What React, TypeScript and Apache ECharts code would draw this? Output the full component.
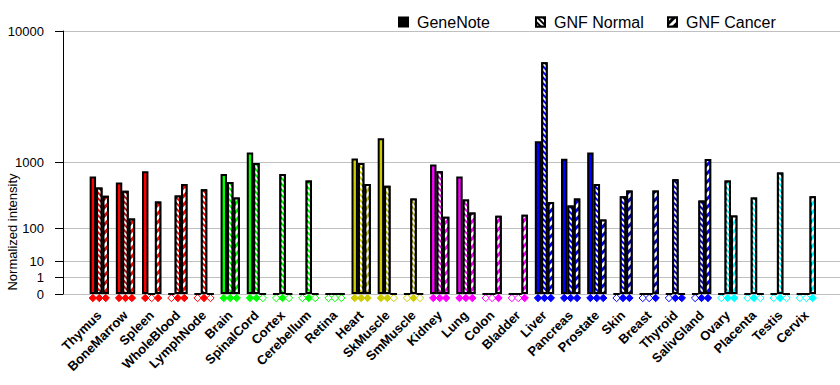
import React, { useEffect, useRef } from "react";
import * as echarts from "echarts";

const CATEGORIES = [
  "Thymus", "BoneMarrow", "Spleen", "WholeBlood", "LymphNode",
  "Brain", "SpinalCord", "Cortex", "Cerebellum", "Retina",
  "Heart", "SkMuscle", "SmMuscle",
  "Kidney", "Lung", "Colon", "Bladder",
  "Liver", "Pancreas", "Prostate", "Skin", "Breast", "Thyroid", "SalivGland",
  "Ovary", "Placenta", "Testis", "Cervix",
];

const GENENOTE = [690, 580, 793, 0, 0, 738, 1279, 0, 0, 0, 1107, 1750, 0, 953, 690, 0, 0, 1641, 1099, 1279, 0, 0, 0, 0, 0, 0, 0, 0];
const GNF_NORMAL = [498, 449, 0, 384, 468, 586, 988, 738, 615, 0, 988, 525, 347, 793, 335, 0, 0, 6560, 269, 552, 372, 0, 634, 323, 615, 359, 771, 0];
const GNF_CANCER = [380, 159, 312, 552, 0, 359, 0, 0, 0, 0, 552, 0, 0, 171, 205, 179, 186, 305, 347, 152, 453, 453, 0, 1091, 181, 0, 0, 372];

// present (filled diamond) / absent (hollow diamond) calls
const CALL_GENENOTE = [1, 1, 1, 0, 0, 1, 1, 0, 0, 0, 1, 1, 0, 1, 1, 0, 0, 1, 1, 1, 0, 0, 0, 0, 0, 0, 0, 0];
const CALL_NORMAL = [1, 1, 0, 1, 1, 1, 1, 1, 1, 0, 1, 1, 1, 1, 1, 0, 0, 1, 1, 1, 1, 0, 1, 1, 1, 1, 1, 0];
const CALL_CANCER = [1, 1, 1, 1, 0, 1, 0, 0, 0, 0, 1, 0, 0, 1, 1, 1, 1, 1, 1, 1, 1, 1, 1, 1, 1, 0, 0, 1];

const TICK_LABELS = [0, 1, 10, 100, 1000, 10000];

const GROUP_COLORS = [
  "#ff0000", "#ff0000", "#ff0000", "#ff0000", "#ff0000",
  "#00ff00", "#00ff00", "#00ff00", "#00ff00", "#00ff00",
  "#cccc00", "#cccc00", "#cccc00",
  "#ff00ff", "#ff00ff", "#ff00ff", "#ff00ff",
  "#0000ff", "#0000ff", "#0000ff", "#0000ff", "#0000ff", "#0000ff", "#0000ff",
  "#00ffff", "#00ffff", "#00ffff", "#00ffff",
];

const SERIES_NAMES = ["GeneNote", "GNF Normal", "GNF Cancer"];

// power scale: each decade takes equal halving of height (0,1,10,100,... -> 0,1,2,4,...)
const tf = (v: number) => (v <= 1 ? v : Math.pow(2, Math.log10(v)));

const FONT = "'Liberation Sans', Arial, sans-serif";
const BAR_W = 6.43;

const DECAL_NORMAL = {
  color: "#ffffff",
  symbol: "rect",
  symbolSize: 1,
  dashArrayX: [1, 0],
  dashArrayY: [1.5, 1.5],
  rotation: Math.PI / 4,
};
const DECAL_CANCER = {
  color: "#ffffff",
  symbol: "rect",
  symbolSize: 1,
  dashArrayX: [1, 0],
  dashArrayY: [2.5, 2.5],
  rotation: -Math.PI / 4,
};

export default function App() {
  const ref = useRef<HTMLDivElement>(null);

  useEffect(() => {
    if (!ref.current) return;
    const chart = echarts.init(ref.current, null, { renderer: "svg" });

    const tickVals = TICK_LABELS.map(tf);
    const colorFn = (p: any) => GROUP_COLORS[p.dataIndex];

    const barBase = {
      type: "bar",
      xAxisIndex: 1,
      yAxisIndex: 1,
      barWidth: BAR_W,
      barGap: "0%",
    };

    const diamondData: any[] = [];
    const calls = [CALL_GENENOTE, CALL_NORMAL, CALL_CANCER];
    calls.forEach((arr, slot) => {
      arr.forEach((f, i) => diamondData.push([i, 0, slot, f]));
    });

    const legendCommon = {
      top: 9,
      icon: "rect",
      itemWidth: 9,
      itemHeight: 9,
      selectedMode: false,
      textStyle: { fontSize: 16, color: "#000", fontFamily: FONT, padding: [0, 0, 0, 4] },
    };

    chart.setOption({
      animation: false,
      textStyle: { fontFamily: FONT },
      grid: [
        { left: 63, right: 0, top: 31, bottom: 91 },
        { left: 86.2, right: 20.6, top: 31, bottom: 91 },
      ],
      legend: [
        { ...legendCommon, left: 393, data: [{ name: "GeneNote", itemStyle: { color: "#000" } }] },
        { ...legendCommon, left: 530, data: [{ name: "GNF Normal", itemStyle: { color: "#000" } }] },
        { ...legendCommon, left: 662, data: [{ name: "GNF Cancer", itemStyle: { color: "#000" } }] },
      ],
      xAxis: [
        { gridIndex: 0, type: "value", min: 0, max: 1, show: false },
        {
          gridIndex: 1,
          type: "category",
          data: CATEGORIES,
          axisLine: { show: false },
          axisTick: { show: false },
          splitLine: { show: false },
          axisLabel: {
            interval: 0,
            rotate: 45,
            margin: 19,
            fontSize: 13,
            fontWeight: "bold",
            color: "#000",
            fontFamily: FONT,
          },
        },
      ],
      yAxis: [
        {
          gridIndex: 0,
          type: "value",
          min: 0,
          max: 16,
          axisLine: { show: true, lineStyle: { color: "#000", width: 1 } },
          axisTick: { show: true, length: 8, lineStyle: { color: "#000" }, customValues: tickVals },
          axisLabel: {
            customValues: tickVals,
            margin: 19,
            fontSize: 13,
            color: "#000",
            fontFamily: FONT,
            formatter: (v: number) => {
              const i = tickVals.findIndex((t) => Math.abs(t - v) < 1e-6);
              return i >= 0 ? String(TICK_LABELS[i]) : "";
            },
          },
          splitLine: { show: true, lineStyle: { color: "#c0c0c0", width: 1 } },
        },
        { gridIndex: 1, type: "value", min: 0, max: 16, show: false },
      ],
      graphic: [
        {
          type: "text",
          x: 12,
          y: 232,
          rotation: Math.PI / 2,
          style: {
            text: "Normalized intensity",
            fontSize: 13,
            fontFamily: FONT,
            fill: "#000",
            align: "center",
            verticalAlign: "middle",
          },
        },
      ],
      series: [
        {
          ...barBase,
          name: SERIES_NAMES[0],
          data: GENENOTE.map(tf),
          itemStyle: { color: colorFn, borderColor: "#000", borderWidth: 2 },
        },
        {
          ...barBase,
          name: SERIES_NAMES[1],
          data: GNF_NORMAL.map(tf),
          itemStyle: { color: colorFn, borderColor: "#000", borderWidth: 2, decal: DECAL_NORMAL },
        },
        {
          ...barBase,
          name: SERIES_NAMES[2],
          data: GNF_CANCER.map(tf),
          itemStyle: { color: colorFn, borderColor: "#000", borderWidth: 2, decal: DECAL_CANCER },
        },
        {
          type: "custom",
          name: "calls",
          xAxisIndex: 1,
          yAxisIndex: 1,
          data: diamondData,
          encode: { x: 0, y: 1 },
          renderItem: (params: any, api: any) => {
            const idx = api.value(0);
            const c = api.coord([idx, 0]);
            const slot = api.value(2);
            const filled = api.value(3);
            const color = GROUP_COLORS[idx];
            const cx = c[0] + (slot - 1) * BAR_W;
            const cy = c[1] + 4;
            const r = 3.7;
            return {
              type: "polygon",
              shape: { points: [[cx, cy - r], [cx + r, cy], [cx, cy + r], [cx - r, cy]] },
              style: { fill: filled ? color : "#ffffff", stroke: color, lineWidth: 1 },
            };
          },
        },
      ],
    });

    return () => chart.dispose();
  }, []);

  return (
    <div
      ref={ref}
      style={{ position: "absolute", left: 0, top: 0, width: 840, height: 385 }}
    />
  );
}
